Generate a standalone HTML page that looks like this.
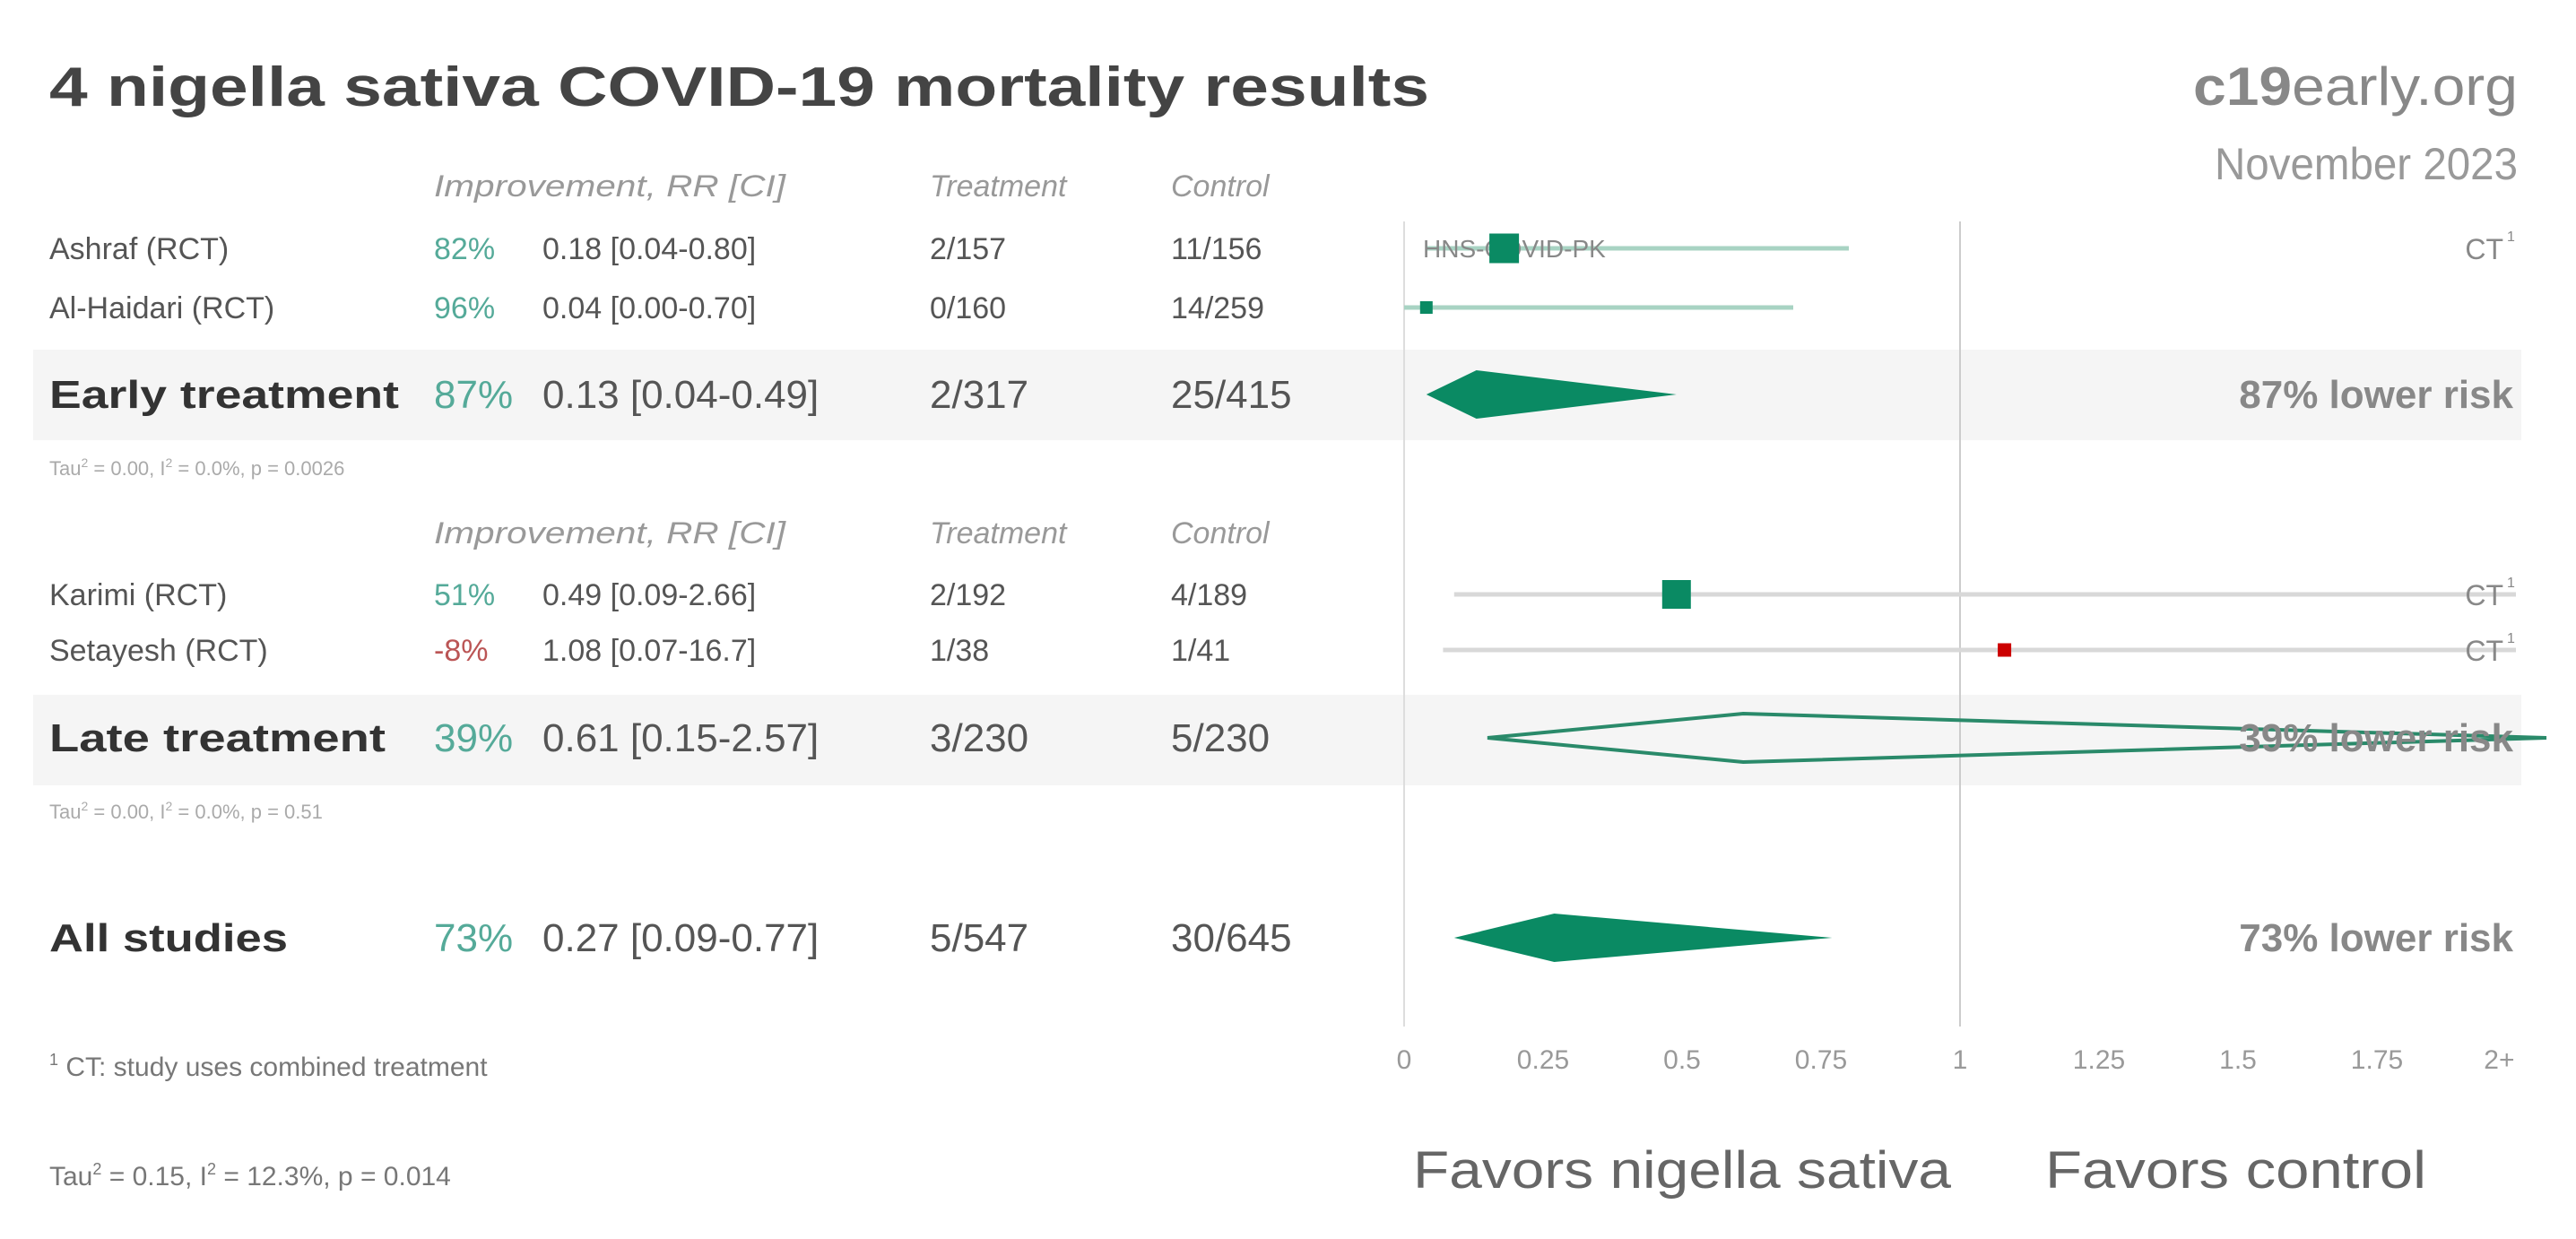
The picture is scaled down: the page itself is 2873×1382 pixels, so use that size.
<!DOCTYPE html>
<html><head><meta charset="utf-8"><style>
html,body{margin:0;padding:0;background:#fff}
svg{display:block;font-family:"Liberation Sans",sans-serif}
</style></head><body>
<svg id="chart" width="2873" height="1382" viewBox="0 0 2873 1382" xmlns="http://www.w3.org/2000/svg">
<rect x="37" y="390" width="2775" height="101" fill="#f5f5f5"/>
<rect x="37" y="775" width="2775" height="101" fill="#f5f5f5"/>
<text x="55" y="118" font-size="62" font-weight="bold" fill="#444" textLength="1539" lengthAdjust="spacingAndGlyphs">4 nigella sativa COVID-19 mortality results</text>
<text x="2808" y="117" font-size="60" fill="#888" text-anchor="end" textLength="362" lengthAdjust="spacingAndGlyphs"><tspan font-weight="bold">c19</tspan>early.org</text>
<text x="2808" y="200" font-size="50" fill="#999" text-anchor="end" textLength="338" lengthAdjust="spacingAndGlyphs">November 2023</text>
<g id="table" fill="#555"></g>
<g id="plot"></g>
<text x="55" y="1200" font-size="30" fill="#777"><tspan font-size="18" dy="-12">1</tspan><tspan dy="12"> CT: study uses combined treatment</tspan></text>
<text x="55" y="1322" font-size="30" fill="#777">Tau<tspan font-size="18" dy="-12">2</tspan><tspan dy="12"> = 0.15, I</tspan><tspan font-size="18" dy="-12">2</tspan><tspan dy="12"> = 12.3%, p = 0.014</tspan></text>
<text x="1576" y="1325" font-size="58" fill="#666" textLength="600" lengthAdjust="spacingAndGlyphs">Favors nigella sativa</text>
<text x="2281" y="1325" font-size="58" fill="#666" textLength="425" lengthAdjust="spacingAndGlyphs">Favors control</text>
</svg>
<script>
const studyNames=["Ashraf (RCT)","Al-Haidari (RCT)","Karimi (RCT)","Setayesh (RCT)"];
const studyRR=[0.18,0.04,0.49,1.08];
const studyLo=[0.04,0.00,0.09,0.07];
const studyHi=[0.80,0.70,2.66,16.7];
const studyImp=["82%","96%","51%","-8%"];
const studyCI=["0.18 [0.04-0.80]","0.04 [0.00-0.70]","0.49 [0.09-2.66]","1.08 [0.07-16.7]"];
const studyTrt=["2/157","0/160","2/192","1/38"];
const studyCtl=["11/156","14/259","4/189","1/41"];
const studyWeight=[33,14,32,15];
const studyRows=[277,343,663,725];
const groupNames=["Early treatment","Late treatment","All studies"];
const groupRR=[0.13,0.61,0.27];
const groupLo=[0.04,0.15,0.09];
const groupHi=[0.49,2.57,0.77];
const groupImp=["87%","39%","73%"];
const groupCI=["0.13 [0.04-0.49]","0.61 [0.15-2.57]","0.27 [0.09-0.77]"];
const groupTrt=["2/317","3/230","5/547"];
const groupCtl=["25/415","5/230","30/645"];
const groupRows=[440,823,1046];
const tickVals=[0,0.25,0.5,0.75,1,1.25,1.5,1.75,1.97];
const tickLabels=["0","0.25","0.5","0.75","1","1.25","1.5","1.75","2+"];

const NS="http://www.w3.org/2000/svg";
const x0=1566,xs=620;
const xmap=v=>x0+xs*Math.min(v,2.0);
function mk(tag,attrs,parent,txt){const e=document.createElementNS(NS,tag);for(const k in attrs)e.setAttribute(k,attrs[k]);if(txt!==undefined)e.textContent=txt;parent.appendChild(e);return e;}
const T=document.getElementById('table'),P=document.getElementById('plot');

[207,594].forEach((y,i)=>{
  let e=mk('text',{x:484,y:y+12,'font-size':34,'font-style':'italic',fill:'#999',textLength:392,lengthAdjust:'spacingAndGlyphs'},T,'Improvement, RR [CI]');
  
  
  e=mk('text',{x:1037,y:y+12,'font-size':34,'font-style':'italic',fill:'#999'},T,'Treatment');
  
  
  e=mk('text',{x:1306,y:y+12,'font-size':34,'font-style':'italic',fill:'#999'},T,'Control');
  
  
});

let ax=mk('line',{x1:xmap(0),x2:xmap(0),y1:247,y2:1145,stroke:'#ddd','stroke-width':2},P);


ax=mk('line',{x1:xmap(1),x2:xmap(1),y1:247,y2:1145,stroke:'#ccc','stroke-width':2},P);


tickVals.forEach((v,i)=>{
  const e=mk('text',{x:xmap(v),y:1192,'font-size':30,fill:'#999','text-anchor':'middle'},P,tickLabels[i]);
  
  
});

studyNames.forEach((n,i)=>{
  const y=studyRows[i];
  const harm=studyRR[i]>1;
  let e=mk('text',{x:55,y:y+12,'font-size':34,fill:'#555'},T,n);
  
  
  e=mk('text',{x:484,y:y+12,'font-size':34,fill:harm?'#b55':'#5a9'},T,studyImp[i]);
  
  
  e=mk('text',{x:605,y:y+12,'font-size':34,fill:'#555'},T,studyCI[i]);
  
  
  e=mk('text',{x:1037,y:y+12,'font-size':34,fill:'#555'},T,studyTrt[i]);
  
  
  e=mk('text',{x:1306,y:y+12,'font-size':34,fill:'#555'},T,studyCtl[i]);
  
  
  const lc=i<2?'#a8d3c3':'#d8d8d8';
  e=mk('line',{x1:xmap(studyLo[i]),x2:xmap(studyHi[i]),y1:y,y2:y,stroke:lc,'stroke-width':5},P);
  
  
  if(i===0){
    e=mk('text',{x:1587,y:y+10,'font-size':28,fill:'#888'},P,'HNS-COVID-PK');
    
    
  }
  const s=studyWeight[i];
  e=mk('rect',{x:xmap(studyRR[i])-s/2,y:y-s/2,width:s,height:s,fill:harm?'#c00':'#0a8a63'},P);
  
  
  if(i!==1){
    e=mk('text',{x:2792,y:y+12,'font-size':32,fill:'#888','text-anchor':'end'},P,'CT');
    
    
    mk('text',{x:2796,y:y-8,'font-size':16,fill:'#888'},P,'1');
  }
});

groupNames.forEach((n,i)=>{
  const y=groupRows[i];
  const w=[390,375,266][i];
  let e=mk('text',{x:55,y:y+15,'font-size':44,'font-weight':'bold',fill:'#333',textLength:w,lengthAdjust:'spacingAndGlyphs'},T,n);
  
  
  e=mk('text',{x:484,y:y+15,'font-size':44,fill:'#5a9'},T,groupImp[i]);
  
  
  e=mk('text',{x:605,y:y+15,'font-size':44,fill:'#555'},T,groupCI[i]);
  
  
  e=mk('text',{x:1037,y:y+15,'font-size':44,fill:'#555'},T,groupTrt[i]);
  
  
  e=mk('text',{x:1306,y:y+15,'font-size':44,fill:'#555'},T,groupCtl[i]);
  
  
  const xl=xmap(groupLo[i]),xc=xmap(groupRR[i]),xh=i===1?2840:xmap(groupHi[i]);
  const outline=i===1;
  e=mk('polygon',{points:`${xl},${y} ${xc},${y-27} ${xh},${y} ${xc},${y+27}`,fill:outline?'none':'#0a8a63',stroke:outline?'#2a8a6a':'none','stroke-width':4},P);
  
  
  e=mk('text',{x:2803,y:y+15,'font-size':44,'font-weight':'bold',fill:'#888','text-anchor':'end'},P,groupImp[i]+' lower risk');
  
  
});

[[522,'0.0026'],[905,'0.51']].forEach(([y,p])=>{
  const e=mk('text',{x:55,y:y+8,'font-size':22,fill:'#aaa'},T);
  
  
  e.innerHTML=`Tau<tspan font-size="14" dy="-9">2</tspan><tspan dy="9"> = 0.00, I</tspan><tspan font-size="14" dy="-9">2</tspan><tspan dy="9"> = 0.0%, p = ${p}</tspan>`;
});
</script>
</body></html>
